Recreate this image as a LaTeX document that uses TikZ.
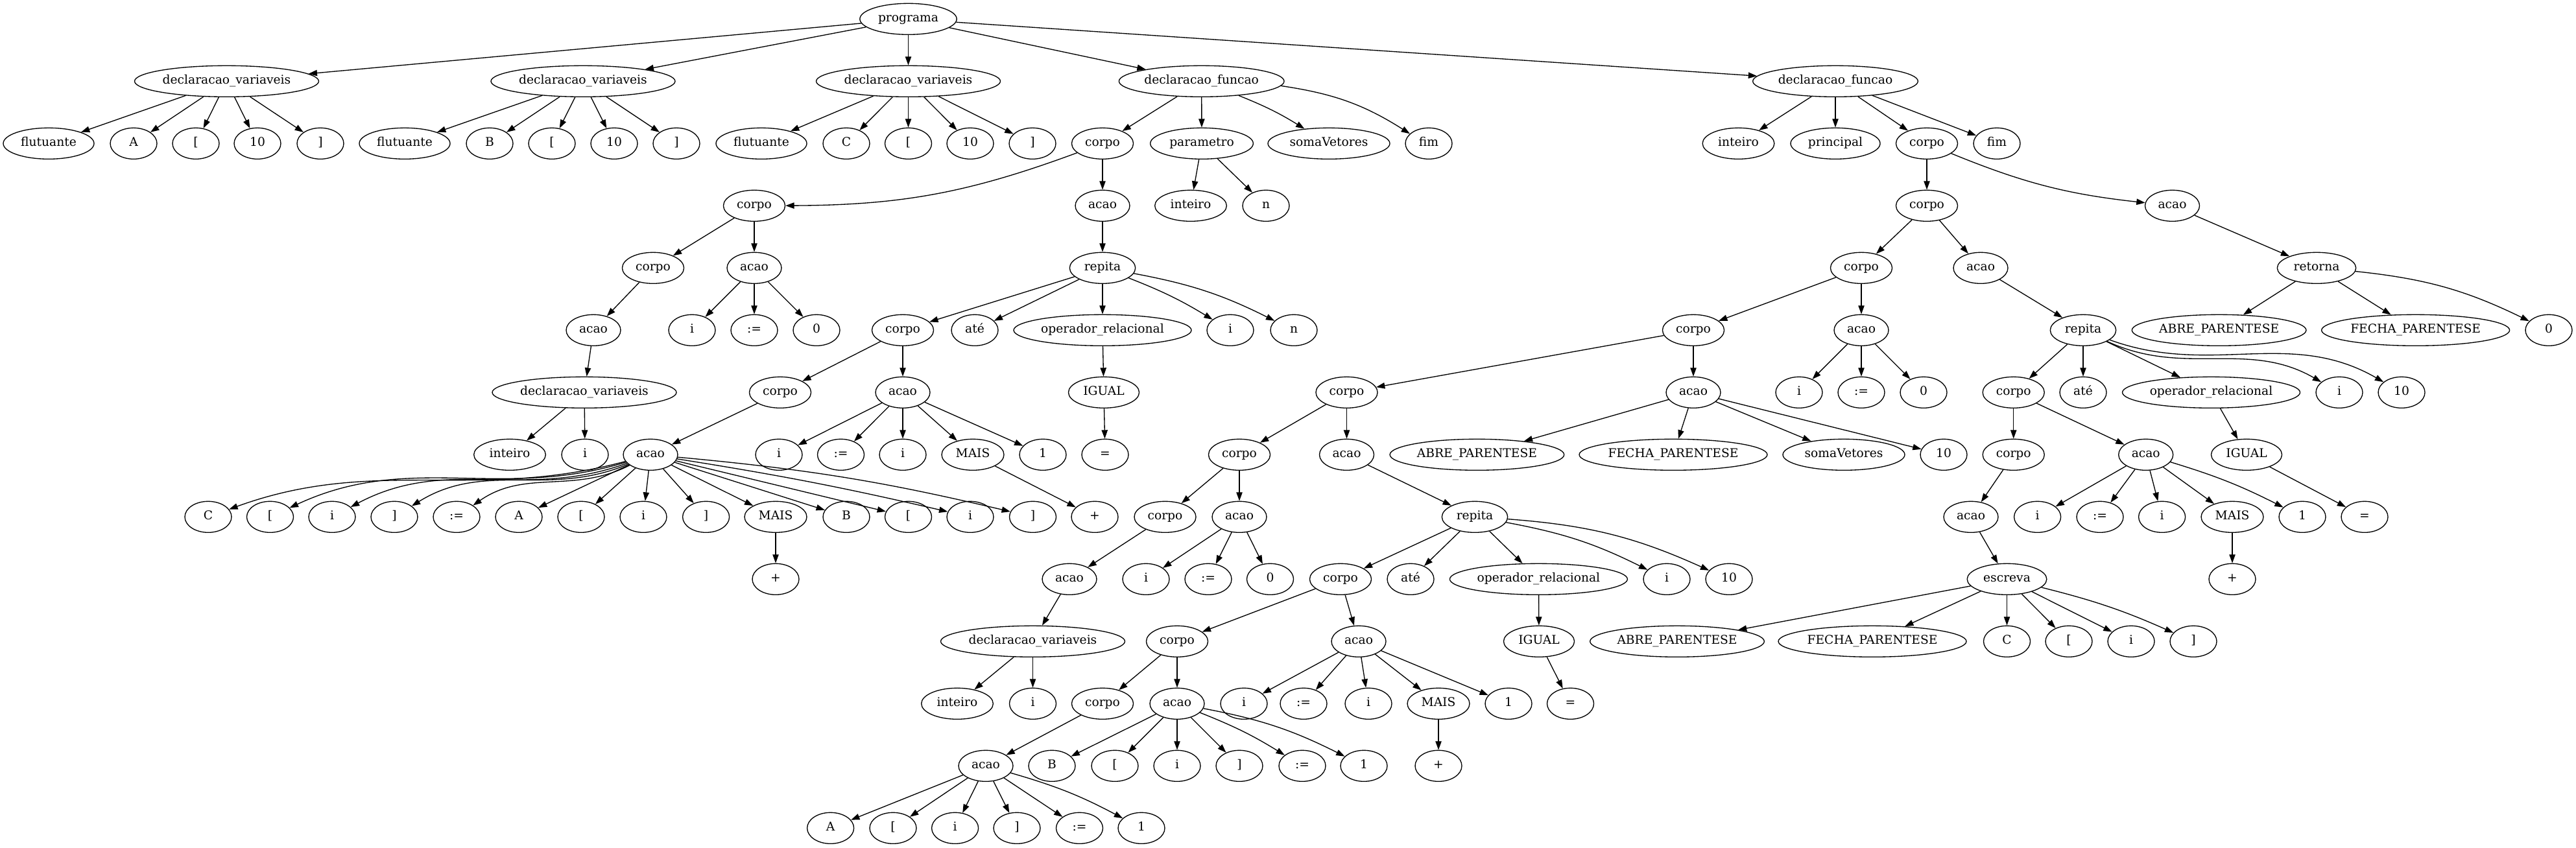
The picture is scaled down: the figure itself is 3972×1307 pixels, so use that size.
\documentclass[tikz,border=0pt]{standalone}
\usepackage{fontspec}
\setmainfont{DejaVu Serif}
\usetikzlibrary{shapes.geometric,arrows.meta}
\tikzset{
  nd/.style={ellipse, draw, line width=1pt, inner sep=0pt, minimum height=36pt, minimum width=54pt,
    text height=10pt, text depth=3pt, font=\fontsize{14}{16}\selectfont},
  edg/.style={-{Triangle[length=10pt,width=7pt]}, line width=1pt},
  wdv/.style={minimum width=213pt},
  wfl/.style={minimum width=105pt},
  wco/.style={minimum width=71.3pt},
  wac/.style={minimum width=63pt},
  wrep/.style={minimum width=76pt},
  wop/.style={minimum width=205.5pt},
  wig/.style={minimum width=81.8pt},
  wint/.style={minimum width=83pt},
  wprog/.style={minimum width=112pt},
  wdf/.style={minimum width=191pt},
  wsoma/.style={minimum width=141pt},
  wprin/.style={minimum width=103.5pt},
  wret/.style={minimum width=91pt},
  wab/.style={minimum width=201.5pt},
  wfe/.style={minimum width=217.5pt},
  wesc/.style={minimum width=92pt},
  wmais/.style={minimum width=72pt},
  wpar/.style={minimum width=119pt},
}
\begin{document}
\begin{tikzpicture}[x=0.75pt,y=-0.75pt]
\useasboundingbox (0,0) rectangle (3972,1307);
% L0
\node[nd,wprog] (prog) at (1400.5,29.3) {programa};
% L1
\node[nd,wdv] (dvA) at (349.5,125.3) {declaracao\_variaveis};
\node[nd,wdv] (dvB) at (899,125.3) {declaracao\_variaveis};
\node[nd,wdv] (dvC) at (1400.5,125.3) {declaracao\_variaveis};
\node[nd,wdf] (dfA) at (1852.7,125.3) {declaracao\_funcao};
\node[nd,wdf] (dfB) at (2830,125.3) {declaracao\_funcao};
% L2
\node[nd,wfl] (fluA) at (75,221.3) {flutuante};
\node[nd] (aA) at (206,221.3) {A};
\node[nd] (lbA) at (302,221.3) {[};
\node[nd] (tA) at (397,221.3) {10};
\node[nd] (rbA) at (494,221.3) {]};
\node[nd,wfl] (fluB) at (624,221.3) {flutuante};
\node[nd] (bB) at (755,221.3) {B};
\node[nd] (lbB) at (851,221.3) {[};
\node[nd] (tB) at (947,221.3) {10};
\node[nd] (rbB) at (1043,221.3) {]};
\node[nd,wfl] (fluC) at (1174,221.3) {flutuante};
\node[nd] (cC) at (1305,221.3) {C};
\node[nd] (lbC) at (1400.5,221.3) {[};
\node[nd] (tC) at (1496,221.3) {10};
\node[nd] (rbC) at (1592,221.3) {]};
\node[nd,wco] (coA) at (1700,221.3) {corpo};
\node[nd,wpar] (par) at (1853,221.3) {parametro};
\node[nd,wsoma] (soma) at (2049,221.3) {somaVetores};
\node[nd] (fimA) at (2203,221.3) {fim};
\node[nd,wint] (intB) at (2680.5,221.3) {inteiro};
\node[nd,wprin] (prin) at (2830,221.3) {principal};
\node[nd,wco] (coF) at (2971,221.3) {corpo};
\node[nd] (fimB) at (3079,221.3) {fim};
% L3
\node[nd,wco] (coB) at (1163,317.3) {corpo};
\node[nd,wac] (acB) at (1700,317.3) {acao};
\node[nd,wint] (intP) at (1836,317.3) {inteiro};
\node[nd] (nP) at (1952,317.3) {n};
\node[nd,wco] (coG) at (2971,317.3) {corpo};
\node[nd,wac] (acG) at (3349.5,317.3) {acao};
% L4
\node[nd,wco] (coC) at (1007,413.3) {corpo};
\node[nd,wac] (acC) at (1163,413.3) {acao};
\node[nd,wrep] (rep) at (1700,413.3) {repita};
\node[nd,wco] (coH) at (2870,413.3) {corpo};
\node[nd,wac] (acH) at (3054,413.3) {acao};
\node[nd,wret] (ret) at (3572,413.3) {retorna};
% L5
\node[nd,wac] (acD) at (915,509.3) {acao};
\node[nd] (i1) at (1067,509.3) {i};
\node[nd] (as1) at (1163,509.3) {:=};
\node[nd] (z1) at (1259,509.3) {0};
\node[nd,wco] (coD) at (1392,509.3) {corpo};
\node[nd] (ate1) at (1503,509.3) {até};
\node[nd,wop] (opA) at (1700,509.3) {operador\_relacional};
\node[nd] (i2) at (1897,509.3) {i};
\node[nd] (n2) at (1995,509.3) {n};
\node[nd,wco] (coI) at (2611,509.3) {corpo};
\node[nd,wac] (acI) at (2870,509.3) {acao};
\node[nd,wrep] (rep2) at (3212,509.3) {repita};
\node[nd,wab] (abR) at (3421.6,509.3) {ABRE\_PARENTESE};
\node[nd,wfe] (feR) at (3724.6,509.3) {FECHA\_PARENTESE};
\node[nd] (z2) at (3930,509.3) {0};
% L6
\node[nd,wdv] (dvD) at (901,605.3) {declaracao\_variaveis};
\node[nd,wco] (coE) at (1203,605.3) {corpo};
\node[nd,wac] (acE) at (1392,605.3) {acao};
\node[nd,wig] (igA) at (1702,605.3) {IGUAL};
\node[nd,wco] (coJ) at (2076.5,605.3) {corpo};
\node[nd,wac] (acJ) at (2611,605.3) {acao};
\node[nd] (i3) at (2774,605.3) {i};
\node[nd] (as3) at (2870,605.3) {:=};
\node[nd] (z3) at (2966,605.3) {0};
\node[nd,wco] (coR) at (3104.7,605.3) {corpo};
\node[nd] (ate2) at (3212,605.3) {até};
\node[nd,wop] (opB) at (3409.5,605.3) {operador\_relacional};
\node[nd] (i4) at (3607,605.3) {i};
\node[nd] (t4) at (3703,605.3) {10};
% L7
\node[nd,wint] (intD) at (786,701.3) {inteiro};
\node[nd] (iD) at (902,701.3) {i};
\node[nd,wac] (acBig) at (1003,701.3) {acao};
\node[nd] (i5) at (1201,701.3) {i};
\node[nd] (as5) at (1296.5,701.3) {:=};
\node[nd] (i6) at (1392,701.3) {i};
\node[nd,wmais] (mais5) at (1500,701.3) {MAIS};
\node[nd] (one5) at (1608,701.3) {1};
\node[nd] (eqA) at (1704,701.3) {=};
\node[nd,wco] (coK) at (1911,701.3) {corpo};
\node[nd,wac] (acK) at (2076.5,701.3) {acao};
\node[nd,wab] (abJ) at (2277.4,701.3) {ABRE\_PARENTESE};
\node[nd,wfe] (feJ) at (2580,701.3) {FECHA\_PARENTESE};
\node[nd,wsoma] (somaJ) at (2843,701.3) {somaVetores};
\node[nd] (tJ) at (2997,701.3) {10};
\node[nd,wco] (coS) at (3104.7,701.3) {corpo};
\node[nd,wac] (acS) at (3308.7,701.3) {acao};
\node[nd,wig] (igB) at (3464,701.3) {IGUAL};
% L8
\node[nd] (C8) at (321,797.3) {C};
\node[nd] (lb8a) at (416.5,797.3) {[};
\node[nd] (i8a) at (512,797.3) {i};
\node[nd] (rb8a) at (608,797.3) {]};
\node[nd] (as8) at (704,797.3) {:=};
\node[nd] (A8) at (800,797.3) {A};
\node[nd] (lb8b) at (896,797.3) {[};
\node[nd] (i8b) at (992,797.3) {i};
\node[nd] (rb8b) at (1088.6,797.3) {]};
\node[nd,wmais] (mais8) at (1196,797.3) {MAIS};
\node[nd] (B8) at (1305,797.3) {B};
\node[nd] (lb8c) at (1400.5,797.3) {[};
\node[nd] (i8c) at (1496,797.3) {i};
\node[nd] (rb8c) at (1592.5,797.3) {]};
\node[nd] (plus8) at (1688,797.3) {+};
\node[nd,wco] (coP) at (1796.5,797.3) {corpo};
\node[nd,wac] (acP) at (1911,797.3) {acao};
\node[nd,wrep] (rep3) at (2274,797.3) {repita};
\node[nd,wac] (acT) at (3039,797.3) {acao};
\node[nd] (i8d) at (3141.6,797.3) {i};
\node[nd] (as8d) at (3238,797.3) {:=};
\node[nd] (i8e) at (3333.6,797.3) {i};
\node[nd,wmais] (mais8d) at (3442,797.3) {MAIS};
\node[nd] (one8d) at (3550,797.3) {1};
\node[nd] (eqB) at (3646,797.3) {=};
% L9
\node[nd] (plus9) at (1196,893.3) {+};
\node[nd,wac] (acQ) at (1649,893.3) {acao};
\node[nd] (i9) at (1767,893.3) {i};
\node[nd] (as9) at (1863,893.3) {:=};
\node[nd] (z9) at (1958.5,893.3) {0};
\node[nd,wco] (coL) at (2067,893.3) {corpo};
\node[nd] (ate3) at (2175,893.3) {até};
\node[nd,wop] (opC) at (2372.4,893.3) {operador\_relacional};
\node[nd] (i9b) at (2570,893.3) {i};
\node[nd] (t9) at (2666,893.3) {10};
\node[nd,wesc] (esc) at (3094.5,893.3) {escreva};
\node[nd] (plus9d) at (3442,893.3) {+};
% L10
\node[nd,wdv] (dvQ) at (1592.5,989.3) {declaracao\_variaveis};
\node[nd,wco] (coM) at (1815,989.3) {corpo};
\node[nd,wac] (acM) at (2095,989.3) {acao};
\node[nd,wig] (igC) at (2373,989.3) {IGUAL};
\node[nd,wab] (abE) at (2586,989.3) {ABRE\_PARENTESE};
\node[nd,wfe] (feE) at (2887,989.3) {FECHA\_PARENTESE};
\node[nd] (C10) at (3094.5,989.3) {C};
\node[nd] (lb10) at (3190,989.3) {[};
\node[nd] (i10) at (3286,989.3) {i};
\node[nd] (rb10) at (3382,989.3) {]};
% L11
\node[nd,wint] (intQ) at (1476,1085.3) {inteiro};
\node[nd] (iQ) at (1592.5,1085.3) {i};
\node[nd,wco] (coN) at (1700,1085.3) {corpo};
\node[nd,wac] (acN) at (1815,1085.3) {acao};
\node[nd] (i11) at (1918,1085.3) {i};
\node[nd] (as11) at (2010,1085.3) {:=};
\node[nd] (i11b) at (2110,1085.3) {i};
\node[nd,wmais] (mais11) at (2218,1085.3) {MAIS};
\node[nd] (one11) at (2326,1085.3) {1};
\node[nd] (eqC) at (2421.5,1085.3) {=};
% L12
\node[nd,wac] (acO) at (1520,1181.3) {acao};
\node[nd] (B12) at (1622,1181.3) {B};
\node[nd] (lb12) at (1719,1181.3) {[};
\node[nd] (i12) at (1815,1181.3) {i};
\node[nd] (rb12) at (1911,1181.3) {]};
\node[nd] (as12) at (2008,1181.3) {:=};
\node[nd] (one12) at (2103,1181.3) {1};
\node[nd] (plus12) at (2218,1181.3) {+};
% L13
\node[nd] (A13) at (1280.6,1277.3) {A};
\node[nd] (lb13) at (1377,1277.3) {[};
\node[nd] (i13) at (1472.6,1277.3) {i};
\node[nd] (rb13) at (1568,1277.3) {]};
\node[nd] (as13) at (1664.5,1277.3) {:=};
\node[nd] (one13) at (1760,1277.3) {1};

% ---- edges
\foreach \c in {dvA,dvB,dvC,dfA,dfB} \draw[edg] (prog) -- (\c);
\foreach \c in {fluA,aA,lbA,tA,rbA} \draw[edg] (dvA) -- (\c);
\foreach \c in {fluB,bB,lbB,tB,rbB} \draw[edg] (dvB) -- (\c);
\foreach \c in {fluC,cC,lbC,tC,rbC} \draw[edg] (dvC) -- (\c);
\draw[edg] (dfA) -- (coA);
\draw[edg] (dfA) -- (par);
\draw[edg] (dfA) to[bend left=5] (soma);
\draw[edg] (dfA) to[bend left=12] (fimA);
\foreach \c in {intB,prin,coF,fimB} \draw[edg] (dfB) -- (\c);
\draw[edg] (coA) to[bend left=10] (coB);
\draw[edg] (coA) -- (acB);
\draw[edg] (par) -- (intP);
\draw[edg] (par) -- (nP);
\draw[edg] (coB) -- (coC);
\draw[edg] (coB) -- (acC);
\draw[edg] (coC) -- (acD);
\draw[edg] (acD) -- (dvD);
\draw[edg] (dvD) -- (intD);
\draw[edg] (dvD) -- (iD);
\foreach \c in {i1,as1,z1} \draw[edg] (acC) -- (\c);
\draw[edg] (acB) -- (rep);
\draw[edg] (rep) -- (coD);
\draw[edg] (rep) -- (ate1);
\draw[edg] (rep) -- (opA);
\draw[edg] (rep) to[bend left=5] (i2);
\draw[edg] (rep) to[bend left=8] (n2);
\draw[edg] (coD) -- (coE);
\draw[edg] (coD) -- (acE);
\draw[edg] (coE) -- (acBig);
\draw[edg] (acBig) to[out=195,in=20] (C8);
\draw[edg] (acBig) to[out=197,in=25] (lb8a);
\draw[edg] (acBig) to[out=200,in=28] (i8a);
\draw[edg] (acBig) to[out=203,in=32] (rb8a);
\draw[edg] (acBig) to[out=207,in=35] (as8);
\foreach \c in {A8,lb8b,i8b,rb8b,mais8,B8,lb8c} \draw[edg] (acBig) -- (\c);
\draw[edg] (acBig) to[bend left=2] (i8c);
\draw[edg] (acBig) to[bend left=4] (rb8c);
\draw[edg] (mais8) -- (plus9);
\foreach \c in {i5,as5,i6,mais5,one5} \draw[edg] (acE) -- (\c);
\draw[edg] (mais5) -- (plus8);
\draw[edg] (opA) -- (igA);
\draw[edg] (igA) -- (eqA);
\draw[edg] (coF) -- (coG);
\draw[edg] (coF) to[bend right=8] (acG);
\draw[edg] (acG) -- (ret);
\draw[edg] (ret) -- (abR);
\draw[edg] (ret) -- (feR);
\draw[edg] (ret) to[bend left=10] (z2);
\draw[edg] (coG) -- (coH);
\draw[edg] (coG) -- (acH);
\draw[edg] (acH) -- (rep2);
\draw[edg] (rep2) -- (coR);
\draw[edg] (rep2) -- (ate2);
\draw[edg] (rep2) -- (opB);
\draw[edg] (rep2) to[out=-25,in=150] (i4);
\draw[edg] (rep2) to[out=-20,in=150] (t4);
\draw[edg] (coR) -- (coS);
\draw[edg] (coR) -- (acS);
\draw[edg] (coS) -- (acT);
\draw[edg] (acT) -- (esc);
\foreach \c in {abE,feE,C10,lb10,i10} \draw[edg] (esc) -- (\c);
\draw[edg] (esc) to[bend left=5] (rb10);
\foreach \c in {i8d,as8d,i8e,mais8d} \draw[edg] (acS) -- (\c);
\draw[edg] (acS) to[bend left=5] (one8d);
\draw[edg] (mais8d) -- (plus9d);
\draw[edg] (opB) -- (igB);
\draw[edg] (igB) -- (eqB);
\draw[edg] (coH) -- (coI);
\draw[edg] (coH) -- (acI);
\foreach \c in {i3,as3,z3} \draw[edg] (acI) -- (\c);
\draw[edg] (coI) -- (coJ);
\draw[edg] (coI) -- (acJ);
\foreach \c in {abJ,feJ,somaJ,tJ} \draw[edg] (acJ) -- (\c);
\draw[edg] (coJ) -- (coK);
\draw[edg] (coJ) -- (acK);
\draw[edg] (acK) -- (rep3);
\draw[edg] (rep3) -- (coL);
\draw[edg] (rep3) -- (ate3);
\draw[edg] (rep3) -- (opC);
\draw[edg] (rep3) to[bend left=8] (i9b);
\draw[edg] (rep3) to[bend left=10] (t9);
\draw[edg] (opC) -- (igC);
\draw[edg] (igC) -- (eqC);
\draw[edg] (coL) -- (coM);
\draw[edg] (coL) -- (acM);
\foreach \c in {i11,as11,i11b,mais11,one11} \draw[edg] (acM) -- (\c);
\draw[edg] (mais11) -- (plus12);
\draw[edg] (coM) -- (coN);
\draw[edg] (coM) -- (acN);
\draw[edg] (coN) -- (acO);
\foreach \c in {A13,lb13,i13,rb13,as13} \draw[edg] (acO) -- (\c);
\draw[edg] (acO) to[bend left=6] (one13);
\foreach \c in {B12,lb12,i12,rb12} \draw[edg] (acN) -- (\c);
\draw[edg] (acN) to[bend left=5] (as12);
\draw[edg] (acN) to[bend left=8] (one12);
\draw[edg] (coK) -- (coP);
\draw[edg] (coK) -- (acP);
\foreach \c in {i9,as9,z9} \draw[edg] (acP) -- (\c);
\draw[edg] (coP) -- (acQ);
\draw[edg] (acQ) -- (dvQ);
\draw[edg] (dvQ) -- (intQ);
\draw[edg] (dvQ) -- (iQ);
\end{tikzpicture}
\end{document}
